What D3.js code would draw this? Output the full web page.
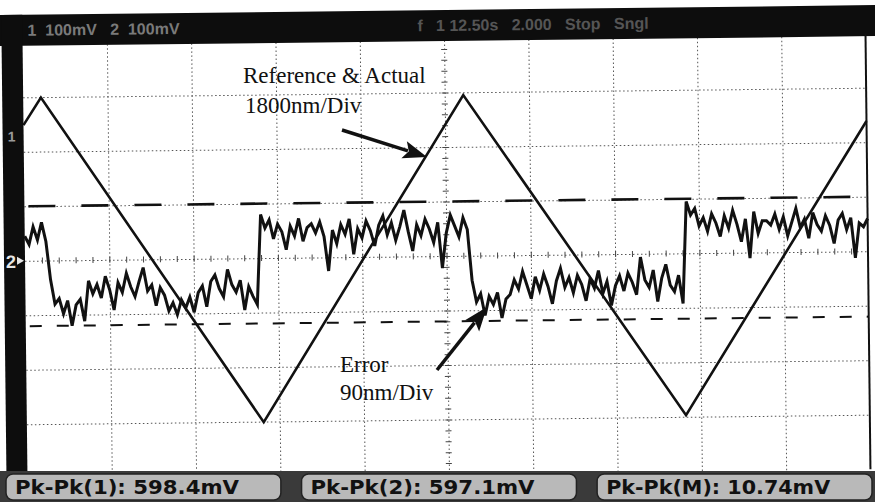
<!DOCTYPE html>
<html>
<head>
<meta charset="utf-8">
<script src="https://cdn.jsdelivr.net/npm/d3@7"></script>
<style>
  body { margin: 0; background: #fff; }
  svg { display: block; }
</style>
</head>
<body>
<div id="scope"></div>
<script>
// Scope capture: reference/actual triangle (ch1) and tracking error (ch2), in divisions
const triangleTime = [0, 0.21, 2.81, 5.22, 7.82, 10];
const triangleDiv = [2.49, 2.99, -3.01, 2.95, -2.97, 2.39];

// error trace, one sample every 0.05 div
const errorStep = 0.05;
const errorDiv = [
    0.45, 0.30, 0.62, 0.38, 0.70, 0.35,
    -0.35, -0.80, -0.70, -0.98, -0.74, -1.20, -0.82, -0.72, -1.12,
    -0.38, -0.62, -0.45, -0.70, -0.30, -0.55, -0.92, -0.42, -0.60, -0.25,
    -0.50, -0.68, -0.40, -0.15, -0.58, -0.47, -0.85, -0.52, -0.66, -0.95,
    -0.80, -1.02, -0.75, -0.90, -0.70, -0.98, -0.62, -0.50, -0.88, -0.42,
    -0.30, -0.55, -0.70, -0.20, -0.48, -0.62, -0.40, -0.95, -0.52, -0.70, -0.85,
    0.80, 0.55, 0.70, 0.35, 0.62, 0.48, 0.15, 0.58, 0.40, 0.72,
    0.30, 0.55, 0.62, 0.45, 0.65, 0.38, -0.25, 0.50, 0.25, 0.60,
    0.42, 0.70, 0.05, 0.52, 0.35, 0.66, 0.48, 0.20, 0.58, 0.75,
    0.40, 0.62, 0.30, 0.55, 0.85, 0.45, 0.10, 0.58, 0.38, 0.68,
    0.50, 0.25, 0.62, -0.22, 0.42, 0.75, 0.55, 0.35, 0.70, 0.48,
    -0.45, -0.85, -0.70, -1.10, -0.75, -0.90, -0.68, -1.15, -0.80, -0.72,
    -0.45, -0.62, -0.30, -0.55, -0.80, -0.40, -0.65, -0.35, -0.58, -0.90,
    -0.48, -0.25, -0.60, -0.42, -0.70, -0.38, -0.55, -0.85, -0.45, -0.62,
    -0.30, -0.72, -0.50, -0.94, -0.58, -0.40, -0.68, -0.35, -0.52, -0.75,
    -0.06, -0.48, -0.62, -0.30, -0.88, -0.45, -0.20, -0.58, -0.70, -0.40, -0.92,
    0.95, 0.70, 0.82, 0.50, 0.65, 0.40, 0.72, 0.55, 0.30, 0.68,
    0.45, 0.78, 0.52, 0.20, 0.62, -0.10, 0.75, 0.35, 0.58, 0.58,
    0.50, 0.70, 0.42, 0.65, 0.30, 0.55, 0.80, 0.45, 0.60, 0.25,
    0.72, 0.50, 0.38, 0.66, 0.48, 0.15, 0.58, 0.70, 0.40, 0.62,
    -0.12, 0.52, 0.45, 0.60
];

const cursorLevels = [1.0, -1.2];
const statusLeft = "1  100mV   2  100mV";
const statusRight = "f   1 12.50s   2.000   Stop   Sngl";
const measureLabels = ["Pk-Pk(1): 598.4mV", "Pk-Pk(2): 597.1mV", "Pk-Pk(M): 10.74mV"];
const annotationLines = [
    ["Reference & Actual", "1800nm/Div"],
    ["Error", "90nm/Div"]
];

const W = 875, H = 502;
const plot = { left: 25, right: 868, top: 38, bottom: 474 };

const svg = d3.select("#scope")
    .append("svg")
    .attr("width", W)
    .attr("height", H)
    .style("background", "#fff");

const x = d3.scaleLinear().domain([0, 10]).range([plot.left, plot.right]);
const y = d3.scaleLinear().domain([-4, 4]).range([plot.bottom, plot.top]);

// the printout was scanned slightly crooked
const scope = svg.append("g")
    .attr("transform", `rotate(-0.65, ${x(5)}, ${y(0)})`);

// grid
const gridStyle = g => {
    g.select(".domain").remove();
    g.selectAll("line").attr("stroke", "#555").attr("stroke-width", 1).attr("stroke-dasharray", "1.5,2.5");
};
scope.append("g")
    .attr("transform", `translate(0,${plot.bottom})`)
    .call(d3.axisBottom(x).tickValues(d3.range(1, 10)).tickSize(-(plot.bottom - plot.top)).tickFormat(""))
    .call(gridStyle);
scope.append("g")
    .attr("transform", `translate(${plot.left},0)`)
    .call(d3.axisLeft(y).tickValues(d3.range(-3, 4)).tickSize(-(plot.right - plot.left)).tickFormat(""))
    .call(gridStyle);

// minor ticks on the centre cross
const minorStyle = g => {
    g.select(".domain").remove();
    g.selectAll("line").attr("stroke", "#444").attr("stroke-width", 1);
};
scope.append("g")
    .attr("transform", `translate(0,${y(0) + 3})`)
    .call(d3.axisBottom(x).tickValues(d3.range(0.2, 10, 0.2)).tickSize(-6).tickFormat(""))
    .call(minorStyle);
scope.append("g")
    .attr("transform", `translate(${x(5) - 3},0)`)
    .call(d3.axisLeft(y).tickValues(d3.range(-3.8, 4, 0.2)).tickSize(-6).tickFormat(""))
    .call(minorStyle);

// cursor lines
scope.selectAll("line.cursor")
    .data(cursorLevels)
    .enter().append("line")
    .attr("class", "cursor")
    .attr("x1", plot.left + 4)
    .attr("x2", plot.right)
    .attr("y1", d => y(d))
    .attr("y2", d => y(d))
    .attr("stroke", "#111")
    .attr("stroke-width", (d, i) => i === 0 ? 2.6 : 2)
    .attr("stroke-dasharray", (d, i) => i === 0 ? "27,26" : "12,15");

// traces
const traceLine = d3.line()
    .x(d => x(d[0]))
    .y(d => y(d[1]));

const triangle = triangleTime.map((t, i) => [t, triangleDiv[i]]);
const errorTrace = errorDiv.map((v, i) => [i * errorStep, v]);

scope.append("path")
    .datum(errorTrace)
    .attr("d", traceLine)
    .attr("fill", "none")
    .attr("stroke", "#111")
    .attr("stroke-width", 3)
    .attr("stroke-linejoin", "miter");

scope.append("path")
    .datum(triangle)
    .attr("d", traceLine)
    .attr("fill", "none")
    .attr("stroke", "#111")
    .attr("stroke-width", 2.6);

// frame: status bar, left strip, right border
scope.append("rect")
    .attr("x", -10).attr("y", 10)
    .attr("width", W + 20).attr("height", plot.top - 10 + 3)
    .attr("fill", "#0d0d0d");
scope.append("rect")
    .attr("x", 4).attr("y", 10)
    .attr("width", plot.left - 4).attr("height", H)
    .attr("fill", "#0d0d0d");
scope.append("line")
    .attr("x1", plot.right).attr("x2", plot.right)
    .attr("y1", plot.top).attr("y2", plot.bottom)
    .attr("stroke", "#111").attr("stroke-width", 2);

scope.append("text")
    .attr("x", 30).attr("y", 31)
    .attr("font-family", "Liberation Sans, Arial, sans-serif")
    .attr("font-size", 16).attr("font-weight", "bold")
    .attr("fill", "#7a7a7a")
    .attr("xml:space", "preserve")
    .text(statusLeft);
scope.append("text")
    .attr("x", 420).attr("y", 31)
    .attr("font-family", "Liberation Sans, Arial, sans-serif")
    .attr("font-size", 16).attr("font-weight", "bold")
    .attr("fill", "#555")
    .attr("xml:space", "preserve")
    .text(statusRight);

// channel markers on the left strip
scope.append("text")
    .attr("x", 6).attr("y", y(0) + 7)
    .attr("font-family", "Liberation Sans, Arial, sans-serif")
    .attr("font-size", 18).attr("font-weight", "bold")
    .attr("fill", "#e6e6e6")
    .text("2");
scope.append("path")
    .attr("d", `M17,${y(0) - 4} L24,${y(0)} L17,${y(0) + 4} Z`)
    .attr("fill", "#e6e6e6");
scope.append("text")
    .attr("x", 9).attr("y", y(2.3) + 6)
    .attr("font-family", "Liberation Sans, Arial, sans-serif")
    .attr("font-size", 14).attr("font-weight", "bold")
    .attr("fill", "#9a9a9a")
    .text("1");

// measurement boxes (kept level, along the bottom edge)
svg.append("rect")
    .attr("x", 0).attr("y", 471)
    .attr("width", W).attr("height", H - 471)
    .attr("fill", "#3a3a3a");

const boxX = d3.scaleBand().domain(d3.range(measureLabels.length)).range([6, 872]).paddingInner(0.07);
const boxes = svg.selectAll("g.measure")
    .data(measureLabels)
    .enter().append("g")
    .attr("class", "measure")
    .attr("transform", (d, i) => `translate(${boxX(i)},474)`);
boxes.append("rect")
    .attr("width", boxX.bandwidth()).attr("height", 26)
    .attr("rx", 7)
    .attr("fill", "#b9b9b9")
    .attr("stroke", "#222").attr("stroke-width", 1.5);
boxes.append("text")
    .attr("x", 9).attr("y", 20)
    .attr("font-family", "Liberation Sans Narrow, DejaVu Sans Condensed, Liberation Sans, sans-serif")
    .attr("font-size", 20).attr("font-weight", "bold")
    .attr("fill", "#111")
    .attr("textLength", 224)
    .attr("lengthAdjust", "spacingAndGlyphs")
    .text(d => d);

// annotations with arrows (page coordinates)
const notes = [
    { x: 243, y: 83, tail: [342, 130], tip: [427, 157] },
    { x: 340, y: 372, tail: [437, 370], tip: [487, 307] }
];

notes.forEach((n, k) => {
    const t = svg.append("text")
        .attr("font-family", "Liberation Serif, Times New Roman, serif")
        .attr("font-size", 23)
        .attr("fill", "#111");
    annotationLines[k].forEach((s, j) => {
        t.append("tspan").attr("x", n.x + (k === 0 && j === 1 ? 2 : 0)).attr("y", n.y + j * (k === 0 ? 30 : 28)).text(s);
    });

    const dx = n.tip[0] - n.tail[0], dy = n.tip[1] - n.tail[1];
    const len = Math.hypot(dx, dy), ux = dx / len, uy = dy / len;
    const headLen = 24, headW = 9;
    const bx = n.tip[0] - ux * headLen, by = n.tip[1] - uy * headLen;
    svg.append("line")
        .attr("x1", n.tail[0]).attr("y1", n.tail[1])
        .attr("x2", bx + ux * 4).attr("y2", by + uy * 4)
        .attr("stroke", "#111").attr("stroke-width", 3.5);
    svg.append("path")
        .attr("d", `M${n.tip[0]},${n.tip[1]} L${bx - uy * headW},${by + ux * headW} L${bx + ux * 5},${by + uy * 5} L${bx + uy * headW},${by - ux * headW} Z`)
        .attr("fill", "#111");
});
</script>
</body>
</html>
